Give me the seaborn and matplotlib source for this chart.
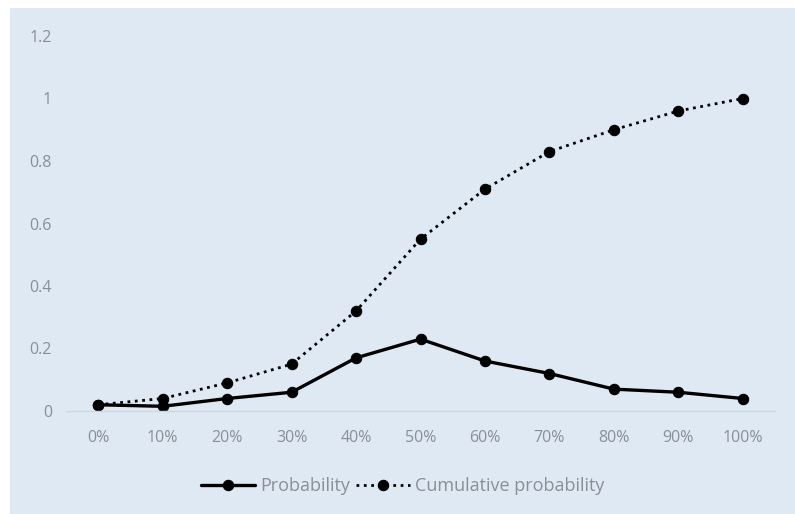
import matplotlib
matplotlib.use("Agg")
import matplotlib.pyplot as plt
import seaborn as sns
import pandas as pd
from matplotlib.patches import Rectangle

categories = ["0%", "10%", "20%", "30%", "40%", "50%", "60%", "70%", "80%", "90%", "100%"]
probability = [0.02, 0.015, 0.04, 0.06, 0.17, 0.23, 0.16, 0.12, 0.07, 0.06, 0.04]
cumulative = [0.02, 0.04, 0.09, 0.15, 0.32, 0.55, 0.71, 0.83, 0.90, 0.96, 1.00]
yticks = [0, 0.2, 0.4, 0.6, 0.8, 1, 1.2]
ytick_labels = ["0", "0.2", "0.4", "0.6", "0.8", "1", "1.2"]

sns.set_theme(style="white")
plt.rcParams["font.family"] = ["Open Sans", "DejaVu Sans"]

bg = "#dee9f4"
txt = "#8a8f96"

fig = plt.figure(figsize=(7.95, 5.14), dpi=100, facecolor="white")
fig.patches.append(Rectangle((10 / 795, 0), 1 - 10 / 795, 1 - 8 / 514,
                             transform=fig.transFigure, facecolor=bg,
                             edgecolor="none", zorder=-10))
ax = fig.add_axes([66 / 795, 1 - 411 / 514, (775 - 66) / 795, (411 - 36) / 514])
ax.set_facecolor("none")
ax.set_zorder(5)

df = pd.DataFrame({"x": categories, "p": probability, "c": cumulative})
sns.lineplot(data=df, x="x", y="p", ax=ax, color="black", marker="o",
             markersize=7.5, markeredgecolor="black", linewidth=2.4,
             label="Probability", sort=False)
sns.lineplot(data=df, x="x", y="c", ax=ax, color="black", marker="o",
             markersize=7.5, markeredgecolor="black", linewidth=2.0, linestyle=":",
             label="Cumulative probability", sort=False)

ax.set_xlim(-0.5, len(categories) - 0.5)
ax.set_ylim(0, 1.2)
ax.set_yticks(yticks)
ax.set_yticklabels(ytick_labels)
ax.set_xlabel("")
ax.set_ylabel("")
for s in ["top", "right", "left"]:
    ax.spines[s].set_visible(False)
ax.spines["bottom"].set_color("#d0d6dd")
ax.spines["bottom"].set_linewidth(1.0)
ax.tick_params(axis="x", length=0, labelsize=11.5, colors=txt, pad=14)
ax.tick_params(axis="y", length=0, labelsize=11.5, colors=txt, pad=10)

leg = ax.legend(loc="center", bbox_to_anchor=(0.475, -0.2), ncol=2,
                frameon=False, fontsize=13, handlelength=3.0, columnspacing=0.3,
                handletextpad=0.3, borderaxespad=0, borderpad=0)
for t in leg.get_texts():
    t.set_color(txt)

fig.savefig("out.png", dpi=100, facecolor="white")
